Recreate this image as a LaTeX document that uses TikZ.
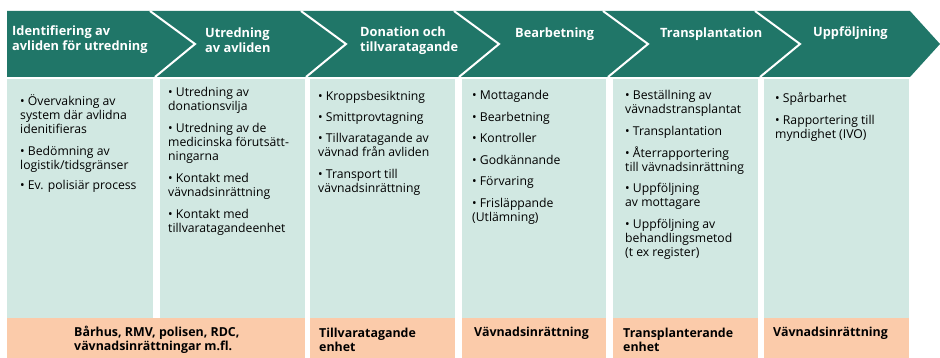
\documentclass[tikz,border=0pt]{standalone}
\usepackage{fontspec}
\setmainfont{Open Sans}
\definecolor{headgreen}{RGB}{32,118,104}
\definecolor{bodygreen}{RGB}{209,232,226}
\definecolor{footorange}{RGB}{251,203,170}
\begin{document}
\begin{tikzpicture}[x=1pt,y=-1pt]

\tikzstyle{head}=[text=white,font=\bfseries\fontsize{12.8}{15}\selectfont,align=left,anchor=west,inner sep=0pt]
\tikzstyle{item}=[font=\fontsize{12.2}{14}\selectfont,align=left,anchor=north west,inner sep=0pt]
\tikzstyle{foot}=[font=\bfseries\fontsize{12.4}{14}\selectfont,align=left,anchor=west,inner sep=0pt]
\tikzstyle{sep}=[draw=white,line width=2pt]

\useasboundingbox (0,0) rectangle (940,358);

\fill[headgreen] (7,11) -- (910,11) -- (940,44) -- (910,77) -- (7,77) -- cycle;
\draw[sep] (150,11) -- (195,44) -- (155,77);
\draw[sep] (301,11) -- (346,44) -- (306,77);
\draw[sep] (454,11) -- (499,44) -- (459,77);
\draw[sep] (603,11) -- (648,44) -- (608,77);
\draw[sep] (755,11) -- (800,44) -- (760,77);

\fill[bodygreen] (7,79) rectangle (153,318);
\fill[bodygreen] (160,79) rectangle (305,318);
\fill[bodygreen] (310,79) rectangle (455,318);
\fill[bodygreen] (462,79) rectangle (606,318);
\fill[bodygreen] (613,79) rectangle (758,318);
\fill[bodygreen] (764,79) rectangle (909,318);

\fill[footorange] (7,318) rectangle (305,358);
\fill[footorange] (310,318) rectangle (455,358);
\fill[footorange] (462,318) rectangle (606,358);
\fill[footorange] (613,318) rectangle (758,358);
\fill[footorange] (764,318) rectangle (909,358);

\node[head] (h1) at (12,40) {Identifiering av\\avliden för utredning};
\node[head] (h2) at (205,40) {Utredning\\av avliden};
\node[head] (h3) at (360,41) {Donation och\\tillvaratagande};
\node[head] (h4) at (515,34) {Bearbetning};
\node[head] (h5) at (660,34) {Transplantation};
\node[head] (h6) at (813,33) {Uppföljning};

\node[item] (b1) at (20,94) {• Övervakning av\\system där avlidna\\idenitifieras\\[8pt]• Bedömning av\\logistik/tidsgränser\\[6pt]• Ev. polisiär process};
\node[item] (b2) at (168,87) {• Utredning av\\donationsvilja\\[8pt]• Utredning av de\\medicinska förutsätt-\\ningarna\\[8pt]• Kontakt med\\vävnadsinrättning\\[8pt]• Kontakt med\\tillvaratagandeenhet};
\node[item] (b3) at (318,91) {• Kroppsbesiktning\\[7pt]• Smittprovtagning\\[7pt]• Tillvaratagande av\\vävnad från avliden\\[8pt]• Transport till\\vävnadsinrättning};
\node[item] (b4) at (472,90) {• Mottagande\\[7.6pt]• Bearbetning\\[7.6pt]• Kontroller\\[7.6pt]• Godkännande\\[7.6pt]• Förvaring\\[7.6pt]• Frisläppande\\(Utlämning)};
\node[item] (b5) at (625,90) {• Beställning av\\vävnadstransplantat\\[8pt]• Transplantation\\[8pt]• Återrapportering\\till vävnadsinrättning\\[7.5pt]• Uppföljning\\av mottagare\\[7.5pt]• Uppföljning av\\behandlingsmetod\\(t ex register)};
\node[item] (b6) at (775,92) {• Spårbarhet\\[8pt]• Rapportering till\\myndighet (IVO)};

\node[foot] (f1) at (74,340) {Bårhus, RMV, polisen, RDC,\\vävnadsinrättningar m.fl.};
\node[foot] (f3) at (319,340) {Tillvaratagande\\enhet};
\node[foot] (f4) at (474,333) {Vävnadsinrättning};
\node[foot] (f5) at (623,340) {Transplanterande\\enhet};
\node[foot] (f6) at (773,333) {Vävnadsinrättning};

\end{tikzpicture}
\end{document}
